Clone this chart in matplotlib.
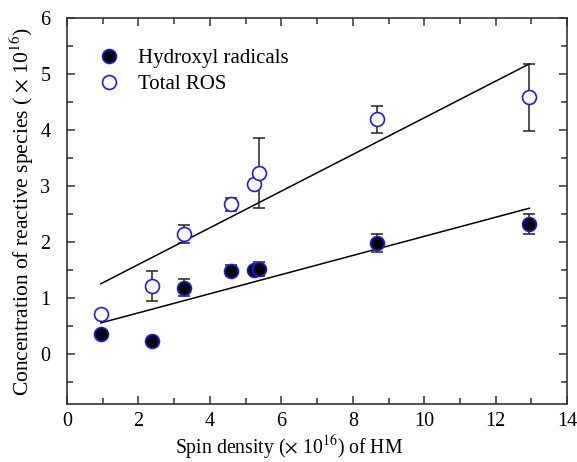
import matplotlib
matplotlib.use('Agg')
import matplotlib.pyplot as plt
from matplotlib.ticker import MultipleLocator

plt.rcParams['font.family'] = ['Liberation Serif', 'DejaVu Serif']
plt.rcParams['mathtext.fontset'] = 'stix'

# data
spin = [0.95, 2.38, 3.27, 4.58, 5.24, 5.38, 8.69, 12.94]
oh = [0.36, 0.23, 1.18, 1.48, 1.50, 1.51, 1.98, 2.32]
oh_err = [0.0, 0.0, 0.15, 0.10, 0.0, 0.13, 0.16, 0.18]
ros = [0.71, 1.21, 2.14, 2.67, 3.03, 3.23, 4.19, 4.58]
ros_err = [0.0, 0.26, 0.16, 0.12, 0.0, 0.63, 0.24, 0.60]

# fitted lines (end points)
fit_x = [0.95, 12.94]
fit_oh = [0.55, 2.60]
fit_ros = [1.25, 5.18]

fig = plt.figure(figsize=(5.77, 4.62), dpi=100)
ax = fig.add_axes([0.116, 0.1255, 0.867, 0.8355])

ax.plot(fit_x, fit_ros, color='black', lw=1.1, zorder=1)
ax.plot(fit_x, fit_oh, color='black', lw=1.1, zorder=1)

ax.errorbar(spin, oh, yerr=oh_err, fmt='none', ecolor='#222222', elinewidth=1.1,
            capsize=4, capthick=1.1, zorder=2)
ax.errorbar(spin, ros, yerr=ros_err, fmt='none', ecolor='#222222', elinewidth=1.1,
            capsize=4, capthick=1.1, zorder=2)

ax.plot(spin, oh, 'o', ms=10, mfc='black', mec='#1a1aff', mew=1.2, ls='none',
        zorder=3, label='Hydroxyl radicals')
ax.plot(spin, ros, 'o', ms=10, mfc='white', mec='#1a1aff', mew=1.2, ls='none',
        zorder=3, label='Total ROS')

ax.set_xlim(0, 14)
ax.set_ylim(-0.9, 6)
ax.xaxis.set_major_locator(MultipleLocator(2))
ax.xaxis.set_minor_locator(MultipleLocator(1))
ax.yaxis.set_major_locator(MultipleLocator(1))
ax.yaxis.set_minor_locator(MultipleLocator(0.5))
ax.set_yticks([0, 1, 2, 3, 4, 5, 6])
ax.tick_params(which='both', direction='in', top=True, right=True,
               labelsize=14.5, width=1.1, color='#333333')
ax.tick_params(which='major', length=6)
ax.tick_params(which='minor', length=4)
ax.tick_params(axis='y', pad=12)
ax.tick_params(axis='x', pad=6)
for s in ax.spines.values():
    s.set_linewidth(1.2)
    s.set_color('#333333')

ax.set_xlabel(r'Spin density ($\times$ 10$^{16}$) of HM', fontsize=14.2, labelpad=2,
              x=0.444)
ax.set_ylabel(r'Concentration of reactive species ( $\times$ 10$^{16}$)', fontsize=15.5,
              labelpad=3)

ax.legend(loc='upper left', frameon=False, fontsize=15, handletextpad=0.4,
          borderaxespad=0.6, labelspacing=0.3, bbox_to_anchor=(0.0, 0.975))

fig.savefig('out.png', dpi=100)
